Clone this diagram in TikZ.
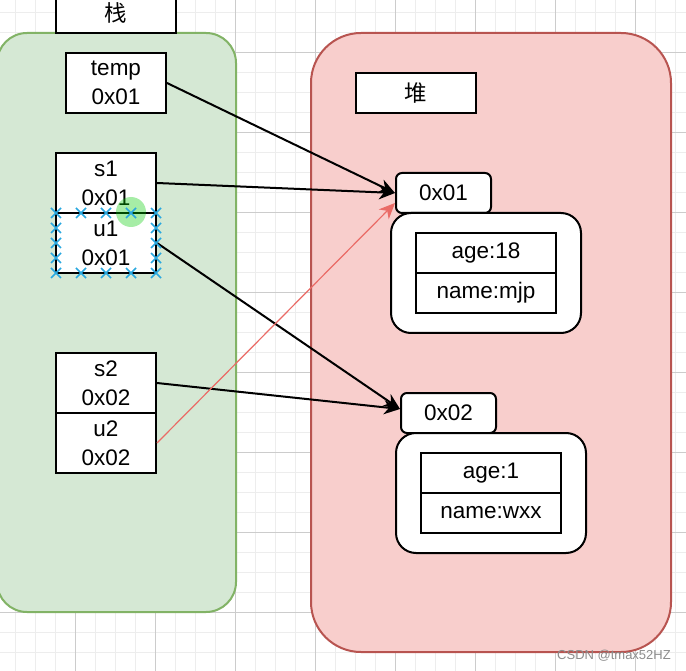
\documentclass[tikz,border=0pt]{standalone}
\usepackage{fontspec}
\setmainfont{Liberation Sans}
\newfontfamily\cjk{Noto Sans CJK SC}
\usetikzlibrary{arrows.meta}

\definecolor{stackfill}{HTML}{D5E8D4}
\definecolor{stackline}{HTML}{82B366}
\definecolor{heapfill}{HTML}{F8CECC}
\definecolor{heapline}{HTML}{B85450}
\definecolor{refred}{HTML}{EA6B66}
\definecolor{handleblue}{HTML}{29A8E0}

\tikzset{
	cell/.style={draw, line width=2pt, fill=white, inner sep=0pt, align=center,
		font=\fontsize{22.5}{29}\selectfont},
	var/.style={cell, minimum width=100pt, minimum height=60pt},
	field/.style={cell, minimum width=140pt, minimum height=40pt},
	addr/.style={cell, rounded corners=6pt, minimum width=95pt, minimum height=40pt},
	obj/.style={cell, rounded corners=20pt, minimum width=190pt, minimum height=120pt},
	title/.style={cell, minimum width=120pt, minimum height=40pt},
	ref/.style={line width=2pt, -{Stealth[length=16pt,width=14pt,inset=5pt]}}
}

\begin{document}
\begin{tikzpicture}[x=1pt,y=-1pt]
	\useasboundingbox (0,0) rectangle (686,671);
	\fill[white] (0,0) rectangle (686,671);
	% grid
	\begin{scope}
		\clip (0,0) rectangle (686,671);
		\foreach \gx in {15,35,...,675} \draw[black!7] (\gx,0) -- (\gx,671);
		\foreach \gy in {12,32,...,665} \draw[black!7] (0,\gy) -- (686,\gy);
		\foreach \gx in {75,155,...,675} \draw[black!20] (\gx,0) -- (\gx,671);
		\foreach \gy in {52,132,...,665} \draw[black!20] (0,\gy) -- (686,\gy);
		% stack and heap areas
		\draw[stackline, fill=stackfill, line width=2pt, rounded corners=30pt] (-3,33) rectangle (236,612);
		\draw[heapline, fill=heapfill, line width=2pt, rounded corners=50pt] (311,33) rectangle (671,652);
		\node[title] (stack) at (116,13) {\cjk 栈};
	\end{scope}
	\node[title] (heap) at (416,93) {\cjk 堆};

	% stack variables
	\node[var] (temp) at (116,83) {temp\\0x01};
	\node[var] (s1) at (106,183) {s1\\0x01};
	\node[var] (u1) at (106,243) {u1\\0x01};
	\node[var] (s2) at (106,383) {s2\\0x02};
	\node[var] (u2) at (106,443) {u2\\0x02};

	% heap objects
	\node[addr] (addr1) at (443.5,193) {0x01};
	\node[obj] (obj1) at (486,273) {};
	\node[field] (age1) at (486,253) {age:18};
	\node[field] (name1) at (486,293) {name:mjp};
	\node[addr] (addr2) at (448.5,413) {0x02};
	\node[obj] (obj2) at (491,493) {};
	\node[field] (age2) at (491,473) {age:1};
	\node[field] (name2) at (491,513) {name:wxx};

	% references
	\draw[ref] (temp.east) -- (addr1.west);
	\draw[ref] (s1.east) -- (addr1.west);
	\draw[ref] (u1.east) -- ([yshift=4pt]addr2.west);
	\draw[ref] (s2.east) -- ([yshift=4pt]addr2.west);
	\draw[ref, refred, line width=1.2pt] (u2.east) -- ([yshift=-10pt]addr1.west);

	% selection handles
	\fill[green!80!black, opacity=.35] (131,212) circle (15pt);
	\foreach \hx in {56,81,...,156} {
		\foreach \hy in {213,273}
			\draw[handleblue, line width=1.6pt] (\hx-5,\hy-5) -- (\hx+5,\hy+5) (\hx-5,\hy+5) -- (\hx+5,\hy-5);
	}
	\foreach \hy in {228,243,258} {
		\foreach \hx in {56,156}
			\draw[handleblue, line width=1.6pt] (\hx-5,\hy-5) -- (\hx+5,\hy+5) (\hx-5,\hy+5) -- (\hx+5,\hy-5);
	}

	\node[text=black!45, font=\fontsize{13}{15}\selectfont] (mark) at (614,656) {CSDN @tmax52HZ};
\end{tikzpicture}
\end{document}
